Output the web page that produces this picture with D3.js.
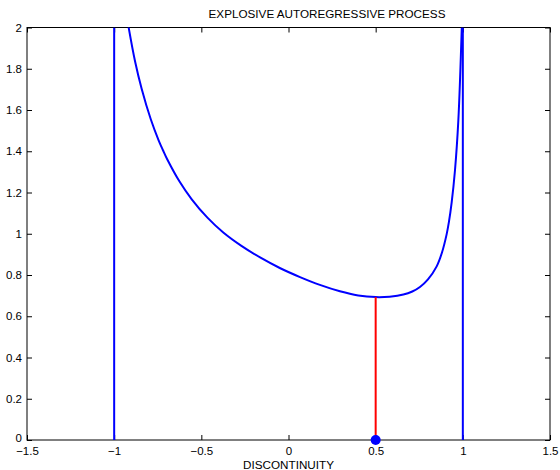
<!DOCTYPE html>
<meta charset="utf-8" />
<script src="https://d3js.org/d3.v7.min.js"></script>
<style>
  body { margin: 0; background: #fff; }
  text { font-family: "Liberation Sans", Arial, Helvetica, sans-serif; }
</style>
<div id="my_dataviz"></div>
<script>
  // values
  var xTicks = [-1.5, -1, -0.5, 0, 0.5, 1, 1.5];
  var yTicks = [0, 0.2, 0.4, 0.6, 0.8, 1, 1.2, 1.4, 1.6, 1.8, 2];
  var curveX = [-0.919, -0.88, -0.842, -0.79, -0.745, -0.72, -0.695, -0.625, -0.555, -0.465,
                -0.374, -0.27, -0.163, -0.05, 0.066, 0.18, 0.295, 0.40, 0.5, 0.58,
                0.659, 0.71, 0.754, 0.80, 0.85, 0.88, 0.907, 0.92, 0.936, 0.955,
                0.974, 0.994];
  var curveY = [2.01, 1.835, 1.702, 1.555, 1.453, 1.405, 1.360, 1.253, 1.167, 1.078,
                1.006, 0.941, 0.885, 0.834, 0.790, 0.752, 0.721, 0.701, 0.693, 0.695,
                0.705, 0.720, 0.742, 0.779, 0.842, 0.908, 0.997, 1.056, 1.152, 1.308,
                1.546, 2.0];
  var poleX = [-1, 1];
  var minX = 0.5, minY = 0.693;
  var title = "EXPLOSIVE AUTOREGRESSIVE PROCESS";
  var xLabel = "DISCONTINUITY";

  var margin = { top: 27.5, right: 10, bottom: 30, left: 27 },
    width = 560 - margin.left - margin.right,
    height = 470 - margin.top - margin.bottom;

  var svg = d3.select("#my_dataviz")
    .append("svg")
    .attr("width", 560)
    .attr("height", 470)
    .append("g")
    .attr("transform", "translate(" + margin.left + "," + margin.top + ")");

  var x = d3.scaleLinear().domain([-1.5, 1.5]).range([0, width]);
  var y = d3.scaleLinear().domain([0, 2]).range([height, 0]);

  svg.append("clipPath").attr("id", "clip")
    .append("rect").attr("width", width).attr("height", height);

  // axes, ticks pointing inward like matlab
  function styleAxis(g) {
    g.select(".domain").remove();
    g.selectAll("line").attr("stroke", "#000");
    g.selectAll("text").attr("fill", "#000").style("font-size", "11.5px");
  }
  svg.append("g")
    .attr("transform", "translate(0," + height + ")")
    .call(d3.axisBottom(x).tickValues(xTicks).tickSize(-5).tickPadding(7).tickFormat(d3.format("")))
    .call(styleAxis);
  var yAxis = svg.append("g")
    .call(d3.axisLeft(y).tickValues(yTicks).tickSize(-5).tickPadding(5).tickFormat(d3.format("")))
    .call(styleAxis);
  // lift the bottom "0" a touch so it clears the -1.5 below it
  yAxis.selectAll(".tick text").filter(function (d) { return d === 0; }).attr("dy", "0.1em");
  svg.append("g")
    .call(d3.axisTop(x).tickValues(xTicks).tickSize(-5).tickFormat(""))
    .call(styleAxis);
  svg.append("g")
    .attr("transform", "translate(" + width + ",0)")
    .call(d3.axisRight(y).tickValues(yTicks).tickSize(-5).tickFormat(""))
    .call(styleAxis);

  svg.append("rect")
    .attr("width", width).attr("height", height)
    .attr("fill", "none").attr("stroke", "#000").attr("stroke-width", 1);

  var plot = svg.append("g").attr("clip-path", "url(#clip)");

  // vertical jumps at the poles
  plot.selectAll(".pole")
    .data(poleX)
    .enter()
    .append("line")
    .attr("x1", function (d) { return x(d); })
    .attr("x2", function (d) { return x(d); })
    .attr("y1", y(0))
    .attr("y2", y(2))
    .attr("stroke", "#0000ff")
    .attr("stroke-width", 2);

  var pts = curveX.map(function (d, i) { return [d, curveY[i]]; });
  plot.append("path")
    .datum(pts)
    .attr("fill", "none")
    .attr("stroke", "#0000ff")
    .attr("stroke-width", 2)
    .attr("d", d3.line()
      .curve(d3.curveCatmullRom.alpha(0.5))
      .x(function (d) { return x(d[0]); })
      .y(function (d) { return y(d[1]); }));

  // stem at the minimum
  svg.append("line")
    .attr("x1", x(minX)).attr("x2", x(minX))
    .attr("y1", y(0)).attr("y2", y(minY))
    .attr("stroke", "#ff0000")
    .attr("stroke-width", 2);

  svg.append("circle")
    .attr("cx", x(minX)).attr("cy", y(0))
    .attr("r", 5)
    .attr("fill", "#0000ff");

  // title sits right of centre in the original
  svg.append("text")
    .attr("x", 300).attr("y", -10)
    .attr("text-anchor", "middle")
    .style("font-size", "11.7px")
    .text(title);

  svg.append("text")
    .attr("x", width / 2).attr("y", height + 29)
    .attr("text-anchor", "middle")
    .style("font-size", "11.7px")
    .text(xLabel);
</script>
